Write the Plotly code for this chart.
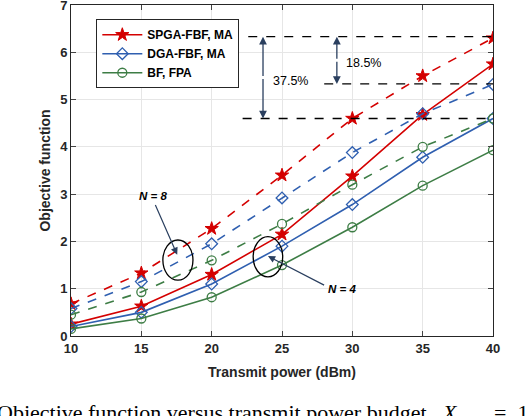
import plotly.graph_objects as go

# transmit power (dBm)
power = [10, 15, 20, 25, 30, 35, 40]

# N = 8 (dashed)
spga_n8 = [0.68, 1.33, 2.27, 3.40, 4.60, 5.50, 6.30]
dga_n8 = [0.58, 1.15, 1.95, 2.92, 3.88, 4.70, 5.32]
bf_n8 = [0.45, 0.93, 1.60, 2.37, 3.20, 4.00, 4.60]

# N = 4 (solid)
spga_n4 = [0.25, 0.63, 1.30, 2.15, 3.38, 4.68, 5.75]
dga_n4 = [0.20, 0.50, 1.10, 1.90, 2.78, 3.78, 4.60]
bf_n4 = [0.15, 0.37, 0.82, 1.50, 2.30, 3.18, 3.93]

names = ["SPGA-FBF, MA", "DGA-FBF, MA", "BF, FPA"]

RED = "#d40000"
BLUE = "#2f5fb0"
GREEN = "#3d7d45"
INK = "#262626"

fig = go.Figure()

styles = [
    (RED, dict(symbol="star", size=10, color=RED, line=dict(color=RED, width=1))),
    (BLUE, dict(symbol="diamond-open", size=9, color=BLUE, line=dict(width=1.3))),
    (GREEN, dict(symbol="circle-open", size=9, color=GREEN, line=dict(width=1.3))),
]

# solid lines (N = 4), shown in legend
for name, ys, (col, mk) in zip(names, [spga_n4, dga_n4, bf_n4], styles):
    fig.add_trace(go.Scatter(x=power, y=ys, mode="lines+markers", name=name,
                             line=dict(color=col, width=1.6), marker=mk))

# dashed lines (N = 8)
for name, ys, (col, mk) in zip(names, [spga_n8, dga_n8, bf_n8], styles):
    fig.add_trace(go.Scatter(x=power, y=ys, mode="lines+markers", name=name,
                             showlegend=False,
                             line=dict(color=col, width=1.6, dash="dash"), marker=mk))

# reference dashed lines for the gains
ref_lines = [(22.6, 6.33), (28.0, 5.33), (22.2, 4.6)]
for x0, yv in ref_lines:
    fig.add_shape(type="line", x0=x0, x1=40, y0=yv, y1=yv,
                  line=dict(color="black", width=1.3, dash="dash"))

# double-headed arrows
for xa, ytop, ybot in [(23.65, 6.33, 4.6), (28.9, 6.33, 5.33)]:
    for yend in (ytop, ybot):
        fig.add_annotation(x=xa, y=yend, ax=xa, ay=(ytop + ybot) / 2, xref="x", yref="y",
                           axref="x", ayref="y", text="", showarrow=True,
                           arrowhead=2, arrowsize=1.2, arrowwidth=1.3)

fig.add_annotation(x=25.6, y=5.4, text="37.5%", showarrow=False,
                   font=dict(size=12.5, color="black"))
fig.add_annotation(x=30.8, y=5.78, text="18.5%", showarrow=False,
                   font=dict(size=12.5, color="black"))

# ellipses marking N = 8 and N = 4 groups
fig.add_shape(type="circle", x0=16.53, x1=18.67, y0=1.18, y1=2.03,
              line=dict(color="black", width=1.3))
fig.add_shape(type="circle", x0=22.95, x1=25.05, y0=1.25, y1=2.1,
              line=dict(color="black", width=1.3))

fig.add_annotation(x=17.55, y=1.72, ax=15.95, ay=2.8, xref="x", yref="y",
                   axref="x", ayref="y", text="", showarrow=True,
                   arrowhead=2, arrowsize=1.2, arrowwidth=1.2)
fig.add_annotation(x=15.8, y=2.96, text="<b><i>N = 8</i></b>", showarrow=False,
                   font=dict(size=11.5, color="black"))
fig.add_annotation(x=24.0, y=1.69, ax=28.1, ay=1.06, xref="x", yref="y",
                   axref="x", ayref="y", text="", showarrow=True,
                   arrowhead=2, arrowsize=1.2, arrowwidth=1.2)
fig.add_annotation(x=29.3, y=1.0, text="<b><i>N = 4</i></b>", showarrow=False,
                   font=dict(size=11.5, color="black"))

# caption below the figure (cut off by the page edge, as in the original)
fig.add_annotation(xref="paper", yref="paper", x=-0.18, y=-0.187, xanchor="left",
                   yanchor="top", showarrow=False,
                   text="Objective function versus transmit power budget.&nbsp; "
                        "<i>X</i><sub>max</sub>&nbsp; =&nbsp; 1",
                   font=dict(family="Liberation Serif", size=22, color="black"))

fig.update_layout(
    width=532, height=416,
    margin=dict(l=71, r=39, t=5, b=80),
    plot_bgcolor="white", paper_bgcolor="white",
    font=dict(family="Liberation Sans", color=INK),
    legend=dict(x=0.06, y=0.957, xanchor="left", yanchor="top",
                bgcolor="white", bordercolor=INK, borderwidth=1,
                font=dict(size=12, color="black", weight="bold"), tracegroupgap=0,
                itemwidth=40),
)
fig.update_xaxes(range=[10, 40], tickvals=power, showgrid=True, gridcolor="#e6e6e6",
                 showline=True, linecolor=INK, mirror="ticks", ticks="inside",
                 ticklen=5, tickfont=dict(size=13, color=INK, weight="bold"),
                 title=dict(text="Transmit power (dBm)", font=dict(size=14, weight="bold"),
                            standoff=12),
                 zeroline=False, automargin=False, ticklabeloverflow="allow")
fig.update_yaxes(range=[0, 7], dtick=1, showgrid=True, gridcolor="#e6e6e6",
                 showline=True, linecolor=INK, mirror="ticks", ticks="inside",
                 ticklen=5, tickfont=dict(size=13, color=INK, weight="bold"),
                 title=dict(text="Objective function", font=dict(size=14, weight="bold"),
                            standoff=6),
                 zeroline=False, automargin=False, ticklabeloverflow="allow")

# drop the default page margin so the figure sits at the window's corner
fig.write_html("out.html", config={"displayModeBar": False},
               post_script="document.body.style.margin = '0';")
